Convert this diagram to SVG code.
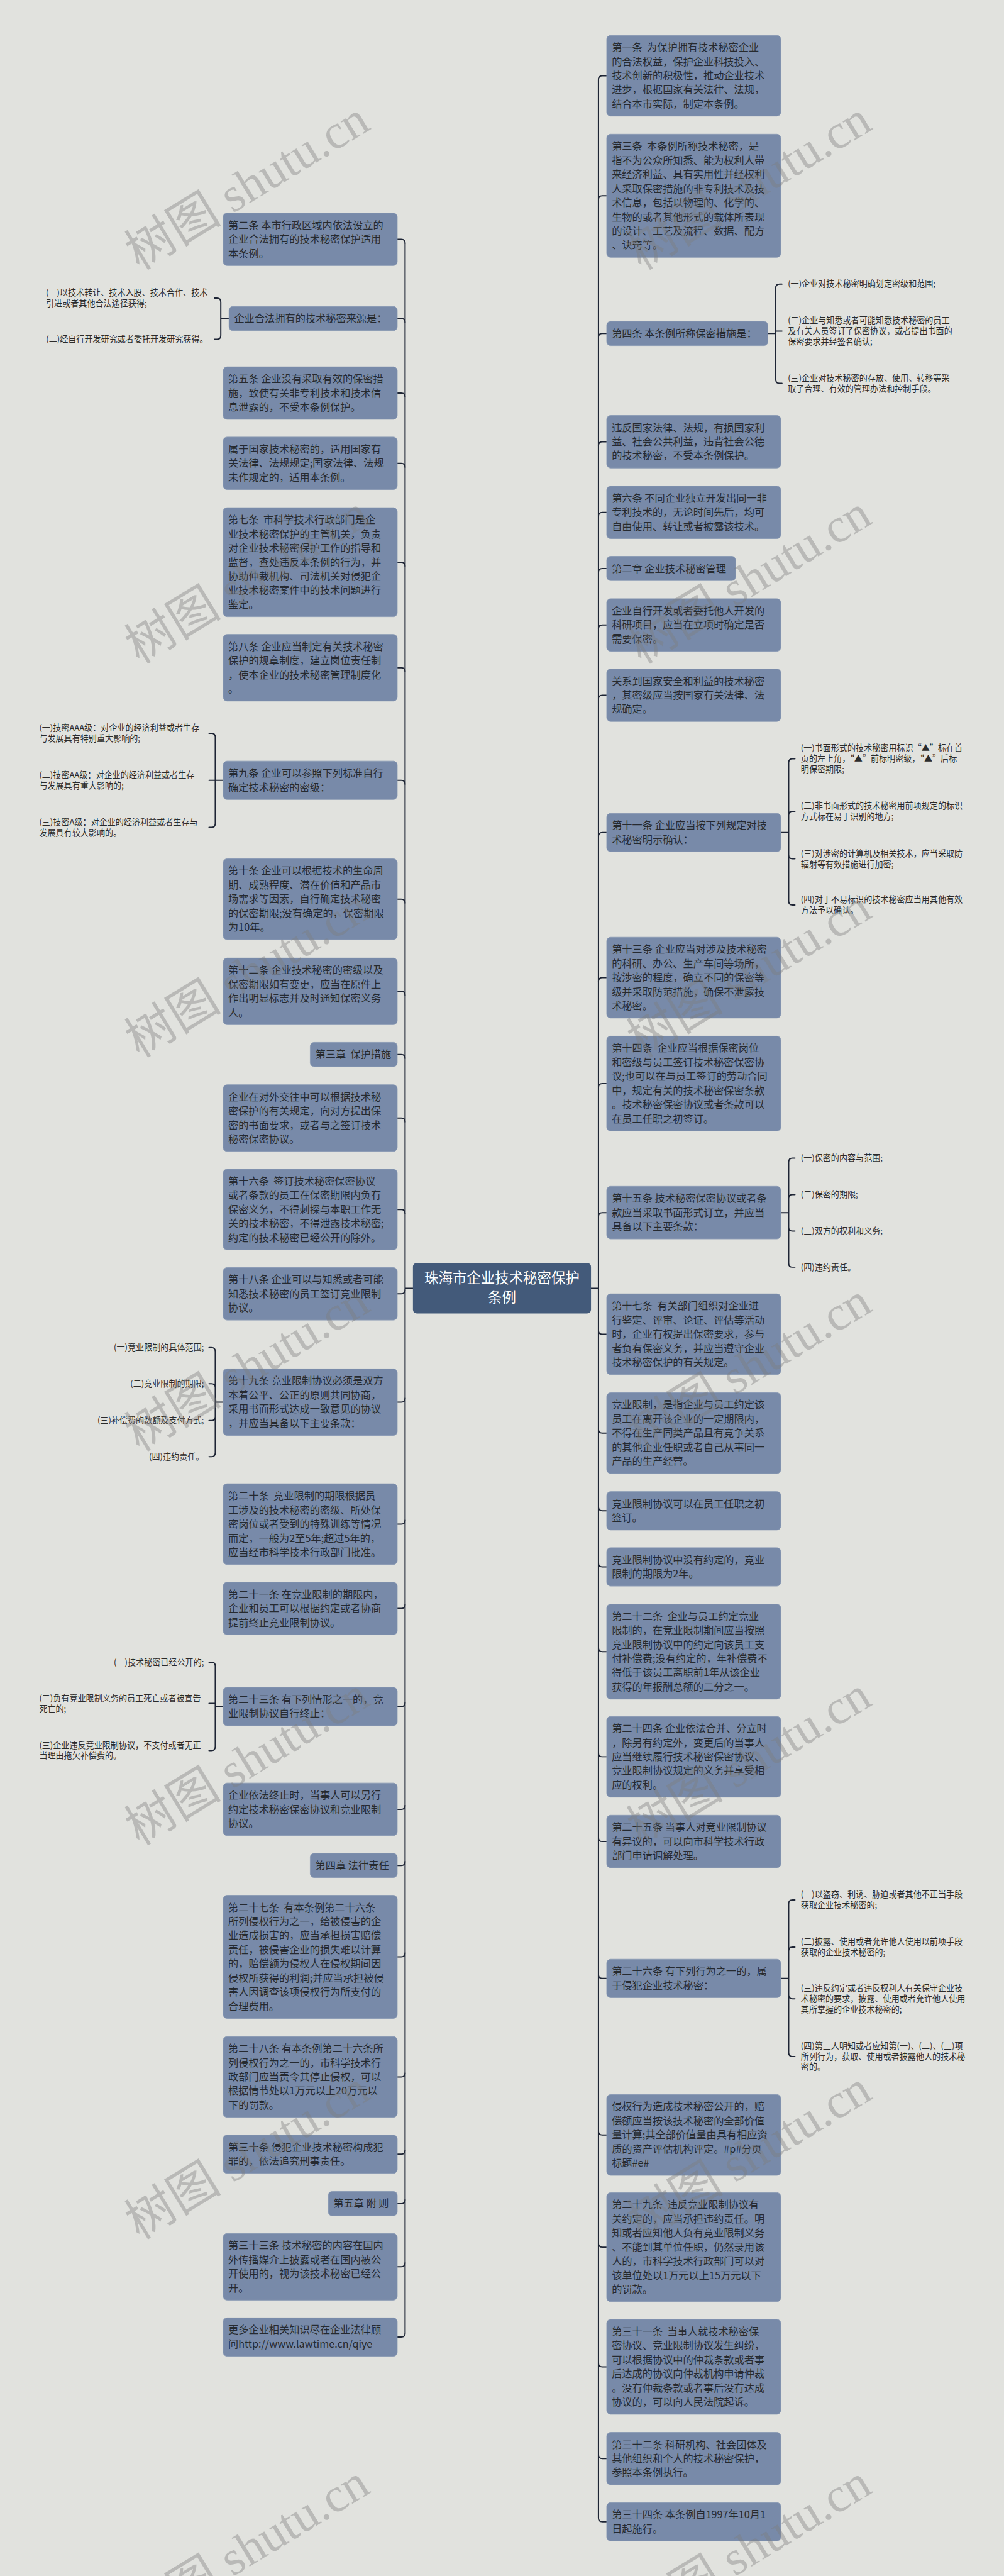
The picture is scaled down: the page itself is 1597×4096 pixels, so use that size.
<svg xmlns="http://www.w3.org/2000/svg" width="1597" height="4096" viewBox="0 0 1597 4096">
<style>
.bg{fill:#e1e2de}
.box{fill:#788aa9;stroke:#8a9ab4;stroke-width:1.5}
.root{fill:#435a7a}
.t{font-family:"Noto Sans CJK SC","Noto Sans",sans-serif;font-size:26px;fill:#262a30;white-space:pre}
.rt{font-family:"Noto Sans CJK SC","Noto Sans",sans-serif;font-size:36px;fill:#ffffff;text-anchor:middle}
.d{font-family:"Noto Sans CJK SC","Noto Sans",sans-serif;font-size:21px;fill:#2b2b2b;white-space:pre}
.e{text-anchor:end}
.ln{fill:none;stroke:#1e2535;stroke-width:3.2;stroke-linecap:round}
.wm{font-family:"Liberation Serif","Noto Sans CJK SC",serif;font-size:124px;fill:#7d7d7d;fill-opacity:0.4}
</style>
<rect class="bg" x="0" y="0" width="1597" height="4096"/>
<g transform="scale(0.6238)">
<g id="connectors">
<path class="ln" d="M1507,3284H1526 M1053,3284H1033 M1526,203V6418 M1033,620V5947"/>
<path class="ln" d="M1526,203Q1526,193 1536,193H1547 M1526,509Q1526,499 1536,499H1547 M1526,860Q1526,850 1536,850H1547 M1526,1136Q1526,1126 1536,1126H1547 M1526,1316Q1526,1306 1536,1306H1547 M1526,1459Q1526,1449 1536,1449H1547 M1526,1603Q1526,1593 1536,1593H1547 M1526,1782Q1526,1772 1536,1772H1547 M1526,2132Q1526,2122 1536,2122H1547 M1526,2502Q1526,2492 1536,2492H1547 M1526,2772Q1526,2762 1536,2762H1547 M1526,3101Q1526,3091 1536,3091H1547"/>
<path class="ln" d="M1526,3391Q1526,3401 1536,3401H1547 M1526,3643Q1526,3653 1536,3653H1547 M1526,3841Q1526,3851 1536,3851H1547 M1526,3984Q1526,3994 1536,3994H1547 M1526,4200Q1526,4210 1536,4210H1547 M1526,4468Q1526,4478 1536,4478H1547 M1526,4684Q1526,4694 1536,4694H1547 M1526,5033Q1526,5043 1536,5043H1547 M1526,5432Q1526,5442 1536,5442H1547 M1526,5718Q1526,5728 1536,5728H1547 M1526,6023Q1526,6033 1536,6033H1547 M1526,6257Q1526,6267 1536,6267H1547 M1526,6418Q1526,6428 1536,6428H1547"/>
<path class="ln" d="M1033,620Q1033,610 1023,610H1013 M1033,822Q1033,812 1023,812H1013 M1033,1012Q1033,1002 1023,1002H1013 M1033,1191Q1033,1181 1023,1181H1013 M1033,1443Q1033,1433 1023,1433H1013 M1033,1712Q1033,1702 1023,1702H1013 M1033,1999Q1033,1989 1023,1989H1013 M1033,2302Q1033,2292 1023,2292H1013 M1033,2537Q1033,2527 1023,2527H1013 M1033,2698Q1033,2688 1023,2688H1013 M1033,2860Q1033,2850 1023,2850H1013 M1033,3093Q1033,3083 1023,3083H1013"/>
<path class="ln" d="M1033,3288Q1033,3298 1023,3298H1013 M1033,3564Q1033,3574 1023,3574H1013 M1033,3875Q1033,3885 1023,3885H1013 M1033,4090Q1033,4100 1023,4100H1013 M1033,4340Q1033,4350 1023,4350H1013 M1033,4602Q1033,4612 1023,4612H1013 M1033,4745Q1033,4755 1023,4755H1013 M1033,4978Q1033,4988 1023,4988H1013 M1033,5284Q1033,5294 1023,5294H1013 M1033,5481Q1033,5491 1023,5491H1013 M1033,5607Q1033,5617 1023,5617H1013 M1033,5768Q1033,5778 1023,5778H1013 M1033,5947Q1033,5957 1023,5957H1013"/>
<path class="ln" d="M1958,850H1978 M1978,734V967 M1978,734Q1978,724 1988,724H1994 M1978,844H1994 M1978,967Q1978,977 1988,977H1994"/>
<path class="ln" d="M1991,2122H2011 M2011,1944V2297 M2011,1944Q2011,1934 2021,1934H2027 M2011,2078Q2011,2068 2021,2068H2027 M2011,2179Q2011,2189 2021,2189H2027 M2011,2297Q2011,2307 2021,2307H2027"/>
<path class="ln" d="M1991,3091H2011 M2011,2962V3220 M2011,2962Q2011,2952 2021,2952H2027 M2011,3055Q2011,3045 2021,3045H2027 M2011,3128Q2011,3138 2021,3138H2027 M2011,3220Q2011,3230 2021,3230H2027"/>
<path class="ln" d="M1991,5043H2011 M2011,4853V5232 M2011,4853Q2011,4843 2021,4843H2027 M2011,4973Q2011,4963 2021,4963H2027 M2011,5085Q2011,5095 2021,5095H2027 M2011,5232Q2011,5242 2021,5242H2027"/>
<path class="ln" d="M584,812H563 M563,770V855 M563,770Q563,760 553,760H547 M563,855Q563,865 553,865H547"/>
<path class="ln" d="M569,1989H549 M549,1879V2099 M549,1879Q549,1869 539,1869H533 M549,1989H533 M549,2099Q549,2109 539,2109H533"/>
<path class="ln" d="M569,3574H549 M549,3445V3703 M549,3445Q549,3435 539,3435H533 M549,3537Q549,3527 539,3527H533 M549,3611Q549,3621 539,3621H533 M549,3703Q549,3713 539,3713H533"/>
<path class="ln" d="M569,4350H549 M549,4247V4452 M549,4247Q549,4237 539,4237H533 M549,4342H533 M549,4452Q549,4462 539,4462H533"/>
</g>

<g id="root"><rect class="root" x="1053" y="3219" width="454" height="129" rx="10"/><text class="rt"><tspan x="1280" y="3271">珠海市企业技术秘密保护</tspan><tspan x="1280" y="3320">条例</tspan></text></g>

<g id="r1"><rect class="box" x="1547" y="90" width="444" height="206" rx="10"/><text class="t"><tspan x="1560" y="130">第一条  为保护拥有技术秘密企业</tspan><tspan x="1560" y="166">的合法权益，保护企业科技投入、</tspan><tspan x="1560" y="202">技术创新的积极性，推动企业技术</tspan><tspan x="1560" y="238">进步，根据国家有关法律、法规，</tspan><tspan x="1560" y="274">结合本市实际，制定本条例。</tspan></text></g>
<g id="r2"><rect class="box" x="1547" y="342" width="444" height="314" rx="10"/><text class="t"><tspan x="1560" y="382">第三条  本条例所称技术秘密，是</tspan><tspan x="1560" y="418">指不为公众所知悉、能为权利人带</tspan><tspan x="1560" y="454">来经济利益、具有实用性并经权利</tspan><tspan x="1560" y="490">人采取保密措施的非专利技术及技</tspan><tspan x="1560" y="526">术信息，包括以物理的、化学的、</tspan><tspan x="1560" y="562">生物的或者其他形式的载体所表现</tspan><tspan x="1560" y="598">的设计、工艺及流程、数据、配方</tspan><tspan x="1560" y="634">、诀窍等。</tspan></text></g>
<g id="r3"><rect class="box" x="1547" y="819" width="411" height="62" rx="10"/><text class="t"><tspan x="1560" y="859">第四条 本条例所称保密措施是：</tspan></text></g>
<g id="r3c"><text class="d"><tspan x="2009" y="731.5">(一)企业对技术秘密明确划定密级和范围;</tspan><tspan x="2009" y="824.5">(二)企业与知悉或者可能知悉技术秘密的员工</tspan><tspan x="2009" y="851.5">及有关人员签订了保密协议，或者提出书面的</tspan><tspan x="2009" y="878.5">保密要求并经签名确认;</tspan><tspan x="2009" y="971">(三)企业对技术秘密的存放、使用、转移等采</tspan><tspan x="2009" y="998">取了合理、有效的管理办法和控制手段。</tspan></text></g>
<g id="r4"><rect class="box" x="1547" y="1059" width="444" height="134" rx="10"/><text class="t"><tspan x="1560" y="1099">违反国家法律、法规，有损国家利</tspan><tspan x="1560" y="1135">益、社会公共利益，违背社会公德</tspan><tspan x="1560" y="1171">的技术秘密，不受本条例保护。</tspan></text></g>
<g id="r5"><rect class="box" x="1547" y="1239" width="444" height="134" rx="10"/><text class="t"><tspan x="1560" y="1279">第六条 不同企业独立开发出同一非</tspan><tspan x="1560" y="1315">专利技术的，无论时间先后，均可</tspan><tspan x="1560" y="1351">自由使用、转让或者披露该技术。</tspan></text></g>
<g id="r6"><rect class="box" x="1547" y="1418" width="329" height="62" rx="10"/><text class="t"><tspan x="1560" y="1458">第二章 企业技术秘密管理</tspan></text></g>
<g id="r7"><rect class="box" x="1547" y="1526" width="444" height="134" rx="10"/><text class="t"><tspan x="1560" y="1566">企业自行开发或者委托他人开发的</tspan><tspan x="1560" y="1602">科研项目，应当在立项时确定是否</tspan><tspan x="1560" y="1638">需要保密。</tspan></text></g>
<g id="r8"><rect class="box" x="1547" y="1705" width="444" height="134" rx="10"/><text class="t"><tspan x="1560" y="1745">关系到国家安全和利益的技术秘密</tspan><tspan x="1560" y="1781">，其密级应当按国家有关法律、法</tspan><tspan x="1560" y="1817">规确定。</tspan></text></g>
<g id="r9"><rect class="box" x="1547" y="2073" width="444" height="98" rx="10"/><text class="t"><tspan x="1560" y="2113">第十一条 企业应当按下列规定对技</tspan><tspan x="1560" y="2149">术秘密明示确认：</tspan></text></g>
<g id="r9c"><text class="d"><tspan x="2042" y="1914.5">(一)书面形式的技术秘密用标识“▲”标在首</tspan><tspan x="2042" y="1941.5">页的左上角，“▲”前标明密级，“▲”后标</tspan><tspan x="2042" y="1968.5">明保密期限;</tspan><tspan x="2042" y="2062">(二)非书面形式的技术秘密用前项规定的标识</tspan><tspan x="2042" y="2089">方式标在易于识别的地方;</tspan><tspan x="2042" y="2183">(三)对涉密的计算机及相关技术，应当采取防</tspan><tspan x="2042" y="2210">辐射等有效措施进行加密;</tspan><tspan x="2042" y="2301">(四)对于不易标识的技术秘密应当用其他有效</tspan><tspan x="2042" y="2328">方法予以确认。</tspan></text></g>
<g id="r10"><rect class="box" x="1547" y="2389" width="444" height="206" rx="10"/><text class="t"><tspan x="1560" y="2429">第十三条 企业应当对涉及技术秘密</tspan><tspan x="1560" y="2465">的科研、办公、生产车间等场所，</tspan><tspan x="1560" y="2501">按涉密的程度，确立不同的保密等</tspan><tspan x="1560" y="2537">级并采取防范措施，确保不泄露技</tspan><tspan x="1560" y="2573">术秘密。</tspan></text></g>
<g id="r11"><rect class="box" x="1547" y="2641" width="444" height="242" rx="10"/><text class="t"><tspan x="1560" y="2681">第十四条  企业应当根据保密岗位</tspan><tspan x="1560" y="2717">和密级与员工签订技术秘密保密协</tspan><tspan x="1560" y="2753">议;也可以在与员工签订的劳动合同</tspan><tspan x="1560" y="2789">中，规定有关的技术秘密保密条款</tspan><tspan x="1560" y="2825">。技术秘密保密协议或者条款可以</tspan><tspan x="1560" y="2861">在员工任职之初签订。</tspan></text></g>
<g id="r12"><rect class="box" x="1547" y="3024" width="444" height="134" rx="10"/><text class="t"><tspan x="1560" y="3064">第十五条 技术秘密保密协议或者条</tspan><tspan x="1560" y="3100">款应当采取书面形式订立，并应当</tspan><tspan x="1560" y="3136">具备以下主要条款：</tspan></text></g>
<g id="r12c"><text class="d"><tspan x="2042" y="2959.5">(一)保密的内容与范围;</tspan><tspan x="2042" y="3052.5">(二)保密的期限;</tspan><tspan x="2042" y="3145.5">(三)双方的权利和义务;</tspan><tspan x="2042" y="3237.5">(四)违约责任。</tspan></text></g>
<g id="r13"><rect class="box" x="1547" y="3298" width="444" height="206" rx="10"/><text class="t"><tspan x="1560" y="3338">第十七条  有关部门组织对企业进</tspan><tspan x="1560" y="3374">行鉴定、评审、论证、评估等活动</tspan><tspan x="1560" y="3410">时，企业有权提出保密要求，参与</tspan><tspan x="1560" y="3446">者负有保密义务，并应当遵守企业</tspan><tspan x="1560" y="3482">技术秘密保护的有关规定。</tspan></text></g>
<g id="r14"><rect class="box" x="1547" y="3550" width="444" height="206" rx="10"/><text class="t"><tspan x="1560" y="3590">竞业限制，是指企业与员工约定该</tspan><tspan x="1560" y="3626">员工在离开该企业的一定期限内，</tspan><tspan x="1560" y="3662">不得在生产同类产品且有竞争关系</tspan><tspan x="1560" y="3698">的其他企业任职或者自己从事同一</tspan><tspan x="1560" y="3734">产品的生产经营。</tspan></text></g>
<g id="r15"><rect class="box" x="1547" y="3802" width="444" height="98" rx="10"/><text class="t"><tspan x="1560" y="3842">竞业限制协议可以在员工任职之初</tspan><tspan x="1560" y="3878">签订。</tspan></text></g>
<g id="r16"><rect class="box" x="1547" y="3945" width="444" height="98" rx="10"/><text class="t"><tspan x="1560" y="3985">竞业限制协议中没有约定的，竞业</tspan><tspan x="1560" y="4021">限制的期限为2年。</tspan></text></g>
<g id="r17"><rect class="box" x="1547" y="4089" width="444" height="242" rx="10"/><text class="t"><tspan x="1560" y="4129">第二十二条  企业与员工约定竞业</tspan><tspan x="1560" y="4165">限制的，在竞业限制期间应当按照</tspan><tspan x="1560" y="4201">竞业限制协议中的约定向该员工支</tspan><tspan x="1560" y="4237">付补偿费;没有约定的，年补偿费不</tspan><tspan x="1560" y="4273">得低于该员工离职前1年从该企业</tspan><tspan x="1560" y="4309">获得的年报酬总额的二分之一。</tspan></text></g>
<g id="r18"><rect class="box" x="1547" y="4375" width="444" height="206" rx="10"/><text class="t"><tspan x="1560" y="4415">第二十四条 企业依法合并、分立时</tspan><tspan x="1560" y="4451">，除另有约定外，变更后的当事人</tspan><tspan x="1560" y="4487">应当继续履行技术秘密保密协议、</tspan><tspan x="1560" y="4523">竞业限制协议规定的义务并享受相</tspan><tspan x="1560" y="4559">应的权利。</tspan></text></g>
<g id="r19"><rect class="box" x="1547" y="4627" width="444" height="134" rx="10"/><text class="t"><tspan x="1560" y="4667">第二十五条 当事人对竞业限制协议</tspan><tspan x="1560" y="4703">有异议的，可以向市科学技术行政</tspan><tspan x="1560" y="4739">部门申请调解处理。</tspan></text></g>
<g id="r20"><rect class="box" x="1547" y="4994" width="444" height="98" rx="10"/><text class="t"><tspan x="1560" y="5034">第二十六条 有下列行为之一的，属</tspan><tspan x="1560" y="5070">于侵犯企业技术秘密：</tspan></text></g>
<g id="r20c"><text class="d"><tspan x="2042" y="4837">(一)以盗窃、利诱、胁迫或者其他不正当手段</tspan><tspan x="2042" y="4864">获取企业技术秘密的;</tspan><tspan x="2042" y="4957">(二)披露、使用或者允许他人使用以前项手段</tspan><tspan x="2042" y="4984">获取的企业技术秘密的;</tspan><tspan x="2042" y="5075.5">(三)违反约定或者违反权利人有关保守企业技</tspan><tspan x="2042" y="5102.5">术秘密的要求，披露、使用或者允许他人使用</tspan><tspan x="2042" y="5129.5">其所掌握的企业技术秘密的;</tspan><tspan x="2042" y="5222.5">(四)第三人明知或者应知第(一)、(二)、(三)项</tspan><tspan x="2042" y="5249.5">所列行为，获取、使用或者披露他人的技术秘</tspan><tspan x="2042" y="5276.5">密的。</tspan></text></g>
<g id="r21"><rect class="box" x="1547" y="5339" width="444" height="206" rx="10"/><text class="t"><tspan x="1560" y="5379">侵权行为造成技术秘密公开的，赔</tspan><tspan x="1560" y="5415">偿额应当按该技术秘密的全部价值</tspan><tspan x="1560" y="5451">量计算;其全部价值量由具有相应资</tspan><tspan x="1560" y="5487">质的资产评估机构评定。#p#分页</tspan><tspan x="1560" y="5523">标题#e#</tspan></text></g>
<g id="r22"><rect class="box" x="1547" y="5589" width="444" height="278" rx="10"/><text class="t"><tspan x="1560" y="5629">第二十九条  违反竞业限制协议有</tspan><tspan x="1560" y="5665">关约定的，应当承担违约责任。明</tspan><tspan x="1560" y="5701">知或者应知他人负有竞业限制义务</tspan><tspan x="1560" y="5737">、不能到其单位任职，仍然录用该</tspan><tspan x="1560" y="5773">人的，市科学技术行政部门可以对</tspan><tspan x="1560" y="5809">该单位处以1万元以上15万元以下</tspan><tspan x="1560" y="5845">的罚款。</tspan></text></g>
<g id="r23"><rect class="box" x="1547" y="5912" width="444" height="242" rx="10"/><text class="t"><tspan x="1560" y="5952">第三十一条  当事人就技术秘密保</tspan><tspan x="1560" y="5988">密协议、竞业限制协议发生纠纷，</tspan><tspan x="1560" y="6024">可以根据协议中的仲裁条款或者事</tspan><tspan x="1560" y="6060">后达成的协议向仲裁机构申请仲裁</tspan><tspan x="1560" y="6096">。没有仲裁条款或者事后没有达成</tspan><tspan x="1560" y="6132">协议的，可以向人民法院起诉。</tspan></text></g>
<g id="r24"><rect class="box" x="1547" y="6200" width="444" height="134" rx="10"/><text class="t"><tspan x="1560" y="6240">第三十二条 科研机构、社会团体及</tspan><tspan x="1560" y="6276">其他组织和个人的技术秘密保护，</tspan><tspan x="1560" y="6312">参照本条例执行。</tspan></text></g>
<g id="r25"><rect class="box" x="1547" y="6379" width="444" height="98" rx="10"/><text class="t"><tspan x="1560" y="6419">第三十四条 本条例自1997年10月1</tspan><tspan x="1560" y="6455">日起施行。</tspan></text></g>

<g id="l1"><rect class="box" x="569" y="543" width="444" height="134" rx="10"/><text class="t"><tspan x="582" y="583">第二条 本市行政区域内依法设立的</tspan><tspan x="582" y="619">企业合法拥有的技术秘密保护适用</tspan><tspan x="582" y="655">本条例。</tspan></text></g>
<g id="l2"><rect class="box" x="584" y="781" width="429" height="62" rx="10"/><text class="t"><tspan x="597" y="821">企业合法拥有的技术秘密来源是：</tspan></text></g>
<g id="l2c"><text class="d"><tspan x="117" y="754">(一)以技术转让、技术入股、技术合作、技术</tspan><tspan x="117" y="781">引进或者其他合法途径获得;</tspan><tspan class="e" x="530" y="872.5">(二)经自行开发研究或者委托开发研究获得。</tspan></text></g>
<g id="l3"><rect class="box" x="569" y="935" width="444" height="134" rx="10"/><text class="t"><tspan x="582" y="975">第五条 企业没有采取有效的保密措</tspan><tspan x="582" y="1011">施，致使有关非专利技术和技术信</tspan><tspan x="582" y="1047">息泄露的，不受本条例保护。</tspan></text></g>
<g id="l4"><rect class="box" x="569" y="1114" width="444" height="134" rx="10"/><text class="t"><tspan x="582" y="1154">属于国家技术秘密的，适用国家有</tspan><tspan x="582" y="1190">关法律、法规规定;国家法律、法规</tspan><tspan x="582" y="1226">未作规定的，适用本条例。</tspan></text></g>
<g id="l5"><rect class="box" x="569" y="1294" width="444" height="278" rx="10"/><text class="t"><tspan x="582" y="1334">第七条  市科学技术行政部门是企</tspan><tspan x="582" y="1370">业技术秘密保护的主管机关，负责</tspan><tspan x="582" y="1406">对企业技术秘密保护工作的指导和</tspan><tspan x="582" y="1442">监督，查处违反本条例的行为，并</tspan><tspan x="582" y="1478">协助仲裁机构、司法机关对侵犯企</tspan><tspan x="582" y="1514">业技术秘密案件中的技术问题进行</tspan><tspan x="582" y="1550">鉴定。</tspan></text></g>
<g id="l6"><rect class="box" x="569" y="1617" width="444" height="170" rx="10"/><text class="t"><tspan x="582" y="1657">第八条 企业应当制定有关技术秘密</tspan><tspan x="582" y="1693">保护的规章制度，建立岗位责任制</tspan><tspan x="582" y="1729">，使本企业的技术秘密管理制度化</tspan><tspan x="582" y="1765">。</tspan></text></g>
<g id="l7"><rect class="box" x="569" y="1940" width="444" height="98" rx="10"/><text class="t"><tspan x="582" y="1980">第九条 企业可以参照下列标准自行</tspan><tspan x="582" y="2016">确定技术秘密的密级：</tspan></text></g>
<g id="l7c"><text class="d"><tspan x="100" y="1863">(一)技密AAA级：对企业的经济利益或者生存</tspan><tspan x="100" y="1890">与发展具有特别重大影响的;</tspan><tspan x="100" y="1983">(二)技密AA级：对企业的经济利益或者生存</tspan><tspan x="100" y="2010">与发展具有重大影响的;</tspan><tspan x="100" y="2103">(三)技密A级：对企业的经济利益或者生存与</tspan><tspan x="100" y="2130">发展具有较大影响的。</tspan></text></g>
<g id="l8"><rect class="box" x="569" y="2189" width="444" height="206" rx="10"/><text class="t"><tspan x="582" y="2229">第十条 企业可以根据技术的生命周</tspan><tspan x="582" y="2265">期、成熟程度、潜在价值和产品市</tspan><tspan x="582" y="2301">场需求等因素，自行确定技术秘密</tspan><tspan x="582" y="2337">的保密期限;没有确定的，保密期限</tspan><tspan x="582" y="2373">为10年。</tspan></text></g>
<g id="l9"><rect class="box" x="569" y="2442" width="444" height="170" rx="10"/><text class="t"><tspan x="582" y="2482">第十二条 企业技术秘密的密级以及</tspan><tspan x="582" y="2518">保密期限如有变更，应当在原件上</tspan><tspan x="582" y="2554">作出明显标志并及时通知保密义务</tspan><tspan x="582" y="2590">人。</tspan></text></g>
<g id="l10"><rect class="box" x="791" y="2657" width="222" height="62" rx="10"/><text class="t"><tspan x="804" y="2697">第三章  保护措施</tspan></text></g>
<g id="l11"><rect class="box" x="569" y="2765" width="444" height="170" rx="10"/><text class="t"><tspan x="582" y="2805">企业在对外交往中可以根据技术秘</tspan><tspan x="582" y="2841">密保护的有关规定，向对方提出保</tspan><tspan x="582" y="2877">密的书面要求，或者与之签订技术</tspan><tspan x="582" y="2913">秘密保密协议。</tspan></text></g>
<g id="l12"><rect class="box" x="569" y="2980" width="444" height="206" rx="10"/><text class="t"><tspan x="582" y="3020">第十六条  签订技术秘密保密协议</tspan><tspan x="582" y="3056">或者条款的员工在保密期限内负有</tspan><tspan x="582" y="3092">保密义务，不得刺探与本职工作无</tspan><tspan x="582" y="3128">关的技术秘密，不得泄露技术秘密;</tspan><tspan x="582" y="3164">约定的技术秘密已经公开的除外。</tspan></text></g>
<g id="l13"><rect class="box" x="569" y="3231" width="444" height="134" rx="10"/><text class="t"><tspan x="582" y="3271">第十八条 企业可以与知悉或者可能</tspan><tspan x="582" y="3307">知悉技术秘密的员工签订竞业限制</tspan><tspan x="582" y="3343">协议。</tspan></text></g>
<g id="l14"><rect class="box" x="569" y="3489" width="444" height="170" rx="10"/><text class="t"><tspan x="582" y="3529">第十九条 竞业限制协议必须是双方</tspan><tspan x="582" y="3565">本着公平、公正的原则共同协商，</tspan><tspan x="582" y="3601">采用书面形式达成一致意见的协议</tspan><tspan x="582" y="3637">，并应当具备以下主要条款：</tspan></text></g>
<g id="l14c"><text class="d e"><tspan x="520" y="3442.5">(一)竞业限制的具体范围;</tspan><tspan x="520" y="3534.5">(二)竞业限制的期限;</tspan><tspan x="520" y="3628.5">(三)补偿费的数额及支付方式;</tspan><tspan x="520" y="3720.5">(四)违约责任。</tspan></text></g>
<g id="l15"><rect class="box" x="569" y="3782" width="444" height="206" rx="10"/><text class="t"><tspan x="582" y="3822">第二十条  竞业限制的期限根据员</tspan><tspan x="582" y="3858">工涉及的技术秘密的密级、所处保</tspan><tspan x="582" y="3894">密岗位或者受到的特殊训练等情况</tspan><tspan x="582" y="3930">而定，一般为2至5年;超过5年的，</tspan><tspan x="582" y="3966">应当经市科学技术行政部门批准。</tspan></text></g>
<g id="l16"><rect class="box" x="569" y="4033" width="444" height="134" rx="10"/><text class="t"><tspan x="582" y="4073">第二十一条 在竞业限制的期限内，</tspan><tspan x="582" y="4109">企业和员工可以根据约定或者协商</tspan><tspan x="582" y="4145">提前终止竞业限制协议。</tspan></text></g>
<g id="l17"><rect class="box" x="569" y="4301" width="444" height="98" rx="10"/><text class="t"><tspan x="582" y="4341">第二十三条 有下列情形之一的，竞</tspan><tspan x="582" y="4377">业限制协议自行终止：</tspan></text></g>
<g id="l17c"><text class="d"><tspan class="e" x="520" y="4244.5">(一)技术秘密已经公开的;</tspan><tspan x="100" y="4336">(二)负有竞业限制义务的员工死亡或者被宣告</tspan><tspan x="100" y="4363">死亡的;</tspan><tspan x="100" y="4456">(三)企业违反竞业限制协议，不支付或者无正</tspan><tspan x="100" y="4483">当理由拖欠补偿费的。</tspan></text></g>
<g id="l18"><rect class="box" x="569" y="4545" width="444" height="134" rx="10"/><text class="t"><tspan x="582" y="4585">企业依法终止时，当事人可以另行</tspan><tspan x="582" y="4621">约定技术秘密保密协议和竞业限制</tspan><tspan x="582" y="4657">协议。</tspan></text></g>
<g id="l19"><rect class="box" x="791" y="4724" width="222" height="62" rx="10"/><text class="t"><tspan x="804" y="4764">第四章 法律责任</tspan></text></g>
<g id="l20"><rect class="box" x="569" y="4831" width="444" height="314" rx="10"/><text class="t"><tspan x="582" y="4871">第二十七条  有本条例第二十六条</tspan><tspan x="582" y="4907">所列侵权行为之一，给被侵害的企</tspan><tspan x="582" y="4943">业造成损害的，应当承担损害赔偿</tspan><tspan x="582" y="4979">责任，被侵害企业的损失难以计算</tspan><tspan x="582" y="5015">的，赔偿额为侵权人在侵权期间因</tspan><tspan x="582" y="5051">侵权所获得的利润;并应当承担被侵</tspan><tspan x="582" y="5087">害人因调查该项侵权行为所支付的</tspan><tspan x="582" y="5123">合理费用。</tspan></text></g>
<g id="l21"><rect class="box" x="569" y="5191" width="444" height="206" rx="10"/><text class="t"><tspan x="582" y="5231">第二十八条 有本条例第二十六条所</tspan><tspan x="582" y="5267">列侵权行为之一的，市科学技术行</tspan><tspan x="582" y="5303">政部门应当责令其停止侵权，可以</tspan><tspan x="582" y="5339">根据情节处以1万元以上20万元以</tspan><tspan x="582" y="5375">下的罚款。</tspan></text></g>
<g id="l22"><rect class="box" x="569" y="5442" width="444" height="98" rx="10"/><text class="t"><tspan x="582" y="5482">第三十条 侵犯企业技术秘密构成犯</tspan><tspan x="582" y="5518">罪的，依法追究刑事责任。</tspan></text></g>
<g id="l23"><rect class="box" x="837" y="5586" width="176" height="62" rx="10"/><text class="t"><tspan x="850" y="5626">第五章 附 则</tspan></text></g>
<g id="l24"><rect class="box" x="569" y="5693" width="444" height="170" rx="10"/><text class="t"><tspan x="582" y="5733">第三十三条 技术秘密的内容在国内</tspan><tspan x="582" y="5769">外传播媒介上披露或者在国内被公</tspan><tspan x="582" y="5805">开使用的，视为该技术秘密已经公</tspan><tspan x="582" y="5841">开。</tspan></text></g>
<g id="l25"><rect class="box" x="569" y="5908" width="444" height="98" rx="10"/><text class="t"><tspan x="582" y="5948">更多企业相关知识尽在企业法律顾</tspan><tspan x="582" y="5984">问http://www.lawtime.cn/qiye</tspan></text></g>

<g id="watermarks">
<text class="wm" transform="translate(355,690) rotate(-31.4)">树图 shutu.cn</text>
<text class="wm" transform="translate(1635,690) rotate(-31.4)">树图 shutu.cn</text>
<text class="wm" transform="translate(355,1694) rotate(-31.4)">树图 shutu.cn</text>
<text class="wm" transform="translate(1635,1694) rotate(-31.4)">树图 shutu.cn</text>
<text class="wm" transform="translate(355,2698) rotate(-31.4)">树图 shutu.cn</text>
<text class="wm" transform="translate(1635,2698) rotate(-31.4)">树图 shutu.cn</text>
<text class="wm" transform="translate(355,3702) rotate(-31.4)">树图 shutu.cn</text>
<text class="wm" transform="translate(1635,3702) rotate(-31.4)">树图 shutu.cn</text>
<text class="wm" transform="translate(355,4706) rotate(-31.4)">树图 shutu.cn</text>
<text class="wm" transform="translate(1635,4706) rotate(-31.4)">树图 shutu.cn</text>
<text class="wm" transform="translate(355,5710) rotate(-31.4)">树图 shutu.cn</text>
<text class="wm" transform="translate(1635,5710) rotate(-31.4)">树图 shutu.cn</text>
<text class="wm" transform="translate(355,6714) rotate(-31.4)">树图 shutu.cn</text>
<text class="wm" transform="translate(1635,6714) rotate(-31.4)">树图 shutu.cn</text>
</g>
</g>
</svg>
